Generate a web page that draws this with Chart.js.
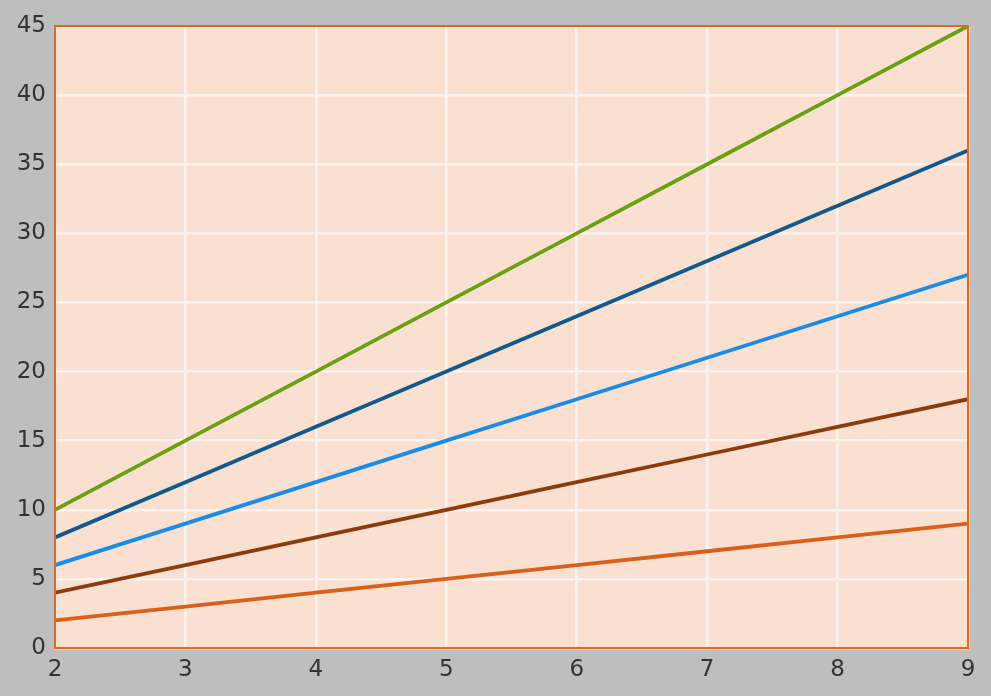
<!DOCTYPE html>
<html>
<head>
<meta charset="utf-8">
<script src="https://cdn.jsdelivr.net/npm/chart.js@4/dist/chart.umd.min.js"></script>
<style>
  html, body { margin: 0; padding: 0; background: #bebebe; }
  #wrap { width: 991px; height: 696px; }
</style>
</head>
<body>
<div id="wrap"><canvas id="c"></canvas></div>
<script>
const xValues = [2, 3, 4, 5, 6, 7, 8, 9];
const series1 = [2, 3, 4, 5, 6, 7, 8, 9];
const series2 = [4, 6, 8, 10, 12, 14, 16, 18];
const series3 = [6, 9, 12, 15, 18, 21, 24, 27];
const series4 = [8, 12, 16, 20, 24, 28, 32, 36];
const series5 = [10, 15, 20, 25, 30, 35, 40, 45];
const yTicks = [0, 5, 10, 15, 20, 25, 30, 35, 40, 45];

const allSeries = [series1, series2, series3, series4, series5];
const colors = ['#d9601a', '#8b3c0f', '#1a8ce6', '#135a8c', '#6aa112'];

const plotBg = {
  id: 'plotBg',
  beforeDraw(chart) {
    const a = chart.chartArea, ctx = chart.ctx;
    ctx.save();
    ctx.fillStyle = '#f9e0d1';
    ctx.fillRect(a.left, a.top, a.right - a.left, a.bottom - a.top);
    ctx.restore();
  },
  afterDraw(chart) {
    const a = chart.ctx, c = chart.chartArea;
    a.save();
    a.strokeStyle = '#e2691c';
    a.lineWidth = 2;
    a.strokeRect(c.left, c.top, c.right - c.left, c.bottom - c.top);
    a.restore();
  }
};

Chart.defaults.font.family = 'DejaVu Sans';
Chart.defaults.font.size = 23;
Chart.defaults.color = '#333333';

new Chart(document.getElementById('c'), {
  type: 'line',
  data: {
    datasets: allSeries.map((s, i) => ({
      data: s.map((v, j) => ({ x: xValues[j], y: v })),
      borderColor: colors[i],
      borderWidth: 3.8,
      pointRadius: 0,
      fill: false,
      tension: 0
    }))
  },
  options: {
    responsive: true,
    maintainAspectRatio: false,
    animation: false,
    layout: { padding: { top: 26, right: 23, left: 0, bottom: 0 } },
    plugins: { legend: { display: false }, tooltip: { enabled: false } },
    scales: {
      x: {
        type: 'linear',
        min: 2, max: 9,
        afterBuildTicks(axis) { axis.ticks = xValues.map(v => ({ value: v })); },
        afterFit(axis) { axis.height = 48; },
        grid: { color: '#fdf3ee', lineWidth: 2.5, drawTicks: false },
        border: { display: false },
        ticks: { padding: 8 }
      },
      y: {
        min: 0, max: 45,
        afterBuildTicks(axis) { axis.ticks = yTicks.map(v => ({ value: v })); },
        afterFit(axis) { axis.width = 55; },
        grid: { color: '#fdf3ee', lineWidth: 2.5, drawTicks: false },
        border: { display: false },
        ticks: { padding: 9 }
      }
    }
  },
  plugins: [plotBg]
});
</script>
</body>
</html>
